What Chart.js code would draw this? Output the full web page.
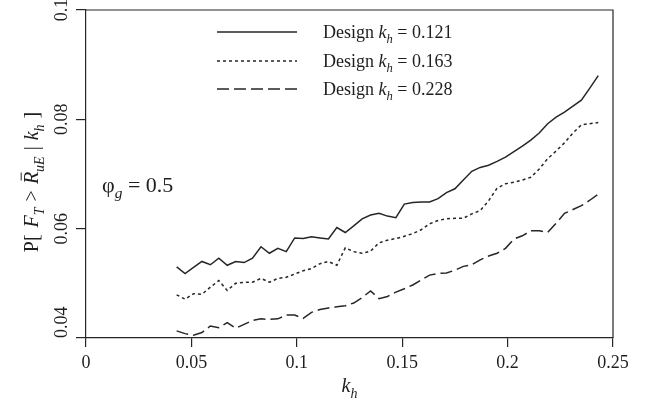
<!DOCTYPE html>
<html>
<head>
<meta charset="utf-8">
<script src="https://cdn.jsdelivr.net/npm/chart.js@4/dist/chart.umd.min.js"></script>
<style>
  html, body { margin: 0; padding: 0; background: #fff; }
  #wrap { width: 647px; height: 406px; }
</style>
</head>
<body>
<div id="wrap"><canvas id="myChart" width="647" height="406"></canvas></div>
<script>
/*-------------------------
~~~~~~~~~~~ Data ~~~~~~~~~~
-------------------------*/
// seismic coefficient k_h along the x axis
const kh = [0.043, 0.047, 0.051, 0.055, 0.059, 0.063, 0.067, 0.071, 0.075, 0.079,
            0.083, 0.087, 0.091, 0.095, 0.099, 0.103, 0.107, 0.111, 0.115, 0.119,
            0.123, 0.127, 0.131, 0.135, 0.139, 0.143, 0.147, 0.151, 0.155, 0.159,
            0.163, 0.167, 0.171, 0.175, 0.179, 0.183, 0.187, 0.191, 0.195, 0.199,
            0.203, 0.207, 0.211, 0.215, 0.219, 0.223, 0.227, 0.231, 0.235, 0.239, 0.243];

const design121 = [0.0530, 0.0518, 0.0529, 0.0540, 0.0534, 0.0546, 0.0533, 0.0540, 0.0538, 0.0546,
                   0.0567, 0.0555, 0.0564, 0.0558, 0.0583, 0.0582, 0.0585, 0.0583, 0.0581, 0.0602,
                   0.0593, 0.0605, 0.0618, 0.0625, 0.0628, 0.0623, 0.0620, 0.0645, 0.0648, 0.0649,
                   0.0649, 0.0655, 0.0666, 0.0673, 0.0689, 0.0705, 0.0712, 0.0716, 0.0723, 0.0731,
                   0.0741, 0.0751, 0.0762, 0.0775, 0.0792, 0.0804, 0.0813, 0.0824, 0.0835, 0.0857, 0.0880];

const design163 = [0.0479, 0.0471, 0.0481, 0.0480, 0.0493, 0.0505, 0.0487, 0.0500, 0.0502, 0.0502,
                   0.0509, 0.0502, 0.0509, 0.0511, 0.0517, 0.0523, 0.0527, 0.0536, 0.0540, 0.0533,
                   0.0565, 0.0558, 0.0555, 0.0559, 0.0574, 0.0579, 0.0582, 0.0586, 0.0591, 0.0598,
                   0.0609, 0.0615, 0.0618, 0.0619, 0.0619, 0.0627, 0.0633, 0.0651, 0.0674, 0.0682,
                   0.0685, 0.0689, 0.0694, 0.0709, 0.0728, 0.0742, 0.0757, 0.0775, 0.0790, 0.0792, 0.0794];

const design228 = [0.0413, 0.0408, 0.0405, 0.0410, 0.0422, 0.0419, 0.0428, 0.0418, 0.0425, 0.0432,
                   0.0435, 0.0434, 0.0435, 0.0442, 0.0442, 0.0436, 0.0447, 0.0452, 0.0455, 0.0457,
                   0.0459, 0.0464, 0.0474, 0.0486, 0.0472, 0.0476, 0.0484, 0.0490, 0.0497, 0.0506,
                   0.0515, 0.0518, 0.0519, 0.0524, 0.0531, 0.0534, 0.0543, 0.0550, 0.0555, 0.0564,
                   0.0581, 0.0587, 0.0596, 0.0596, 0.0593, 0.0610, 0.0628, 0.0635, 0.0642, 0.0652, 0.0663];

const seriesLabels = ['0.121', '0.163', '0.228'];
const xTicks = [0, 0.05, 0.1, 0.15, 0.2, 0.25];
const yTicks = [0.04, 0.06, 0.08, 0.1];

/*-------------------------
~~~~~~~~~~ Styles ~~~~~~~~~
-------------------------*/
const FONT = "'Liberation Serif', 'DejaVu Serif', serif";
const INK = '#262626';
const dashes = [[], [3, 3], [12, 5]];

function toPoints(values) {
    return values.map((v, i) => ({ x: kh[i], y: v }));
}

function newDataset(label, values, dash) {
    return {
        label: label,
        data: toPoints(values),
        borderColor: INK,
        borderWidth: 1.5,
        borderDash: dash,
        pointRadius: 0,
        tension: 0,
        fill: false,
    };
}

/*-------------------------
~~~~~~~ Text helpers ~~~~~~
-------------------------*/
// parts: [{t, it, sub, bar, gap}] drawn left to right from (x, y) on the baseline
function partWidth(ctx, p, size) {
    ctx.font = (p.it ? 'italic ' : '') + (p.sub ? size * 0.7 : size) + 'px ' + FONT;
    return ctx.measureText(p.t).width + (p.gap || 0);
}

function richWidth(ctx, parts, size) {
    return parts.reduce((w, p) => w + partWidth(ctx, p, size), 0);
}

function drawRich(ctx, parts, x, y, size) {
    let cx = x;
    parts.forEach(p => {
        const w = partWidth(ctx, p, size);   // also sets ctx.font
        const dy = p.sub ? size * 0.28 : 0;
        ctx.fillText(p.t, cx, y + dy);
        if (p.bar) {
            const bw = w - (p.gap || 0);
            ctx.beginPath();
            ctx.lineWidth = 1;
            ctx.moveTo(cx + bw * 0.3, y - size * 0.84);
            ctx.lineTo(cx + bw * 0.95, y - size * 0.84);
            ctx.stroke();
        }
        cx += w;
    });
}

/*-------------------------
~~~~~~~~ Decorations ~~~~~~
-------------------------*/
const decorations = {
    id: 'decorations',
    afterDraw(chart) {
        const ctx = chart.ctx;
        const area = chart.chartArea;
        const yScale = chart.scales.y;
        ctx.save();
        ctx.strokeStyle = INK;
        ctx.fillStyle = '#1e1e1e';
        ctx.textBaseline = 'alphabetic';

        // top and right sides of the box
        ctx.lineWidth = 1.2;
        ctx.beginPath();
        ctx.moveTo(area.left, area.top);
        ctx.lineTo(area.right, area.top);
        ctx.lineTo(area.right, area.bottom);
        ctx.stroke();

        // rotated y tick labels
        ctx.font = '18px ' + FONT;
        ctx.textAlign = 'center';
        yTicks.forEach(v => {
            const label = String(v);
            const half = ctx.measureText(label).width / 2;
            let py = yScale.getPixelForValue(v);
            py = Math.min(py, area.bottom - half);
            ctx.save();
            ctx.translate(67, py);
            ctx.rotate(-Math.PI / 2);
            ctx.fillText(label, 0, 0);
            ctx.restore();
        });

        // y axis title
        const yTitle = [
            { t: 'P[', gap: 7 }, { t: 'F', it: true }, { t: 'T', it: true, sub: true, gap: 6 },
            { t: '>', gap: 6 }, { t: 'R', it: true, bar: true }, { t: 'uE', it: true, sub: true, gap: 6 },
            { t: '|', gap: 6 }, { t: 'k', it: true }, { t: 'h', it: true, sub: true, gap: 6 }, { t: ']' }
        ];
        ctx.textAlign = 'left';
        const tw = richWidth(ctx, yTitle, 20);
        ctx.save();
        ctx.translate(38, 182);
        ctx.rotate(-Math.PI / 2);
        drawRich(ctx, yTitle, -tw / 2, 0, 20);
        ctx.restore();

        // x axis title
        const xTitle = [{ t: 'k', it: true }, { t: 'h', it: true, sub: true }];
        const xw = richWidth(ctx, xTitle, 20);
        drawRich(ctx, xTitle, (area.left + area.right) / 2 - xw / 2, 392, 20);

        // annotation
        drawRich(ctx, [{ t: '\u03C6' }, { t: 'g', it: true, sub: true }, { t: ' = 0.5' }], 102, 192, 22);

        // legend
        const rows = [32, 61, 89];
        chart.data.datasets.forEach((ds, i) => {
            ctx.save();
            ctx.lineWidth = 1.5;
            ctx.setLineDash(ds.borderDash);
            ctx.beginPath();
            ctx.moveTo(217, rows[i]);
            ctx.lineTo(297, rows[i]);
            ctx.stroke();
            ctx.restore();
            drawRich(ctx, [{ t: 'Design ' }, { t: 'k', it: true }, { t: 'h', it: true, sub: true },
                           { t: ' = ' + seriesLabels[i] }], 323, rows[i] + 6, 18);
        });
        ctx.restore();
    }
};

/*-------------------------
~~~~~~~~~~ Chart ~~~~~~~~~~
-------------------------*/
const ctx = document.getElementById('myChart').getContext('2d');
new Chart(ctx, {
    type: 'line',
    data: {
        datasets: [
            newDataset('Design kh = ' + seriesLabels[0], design121, dashes[0]),
            newDataset('Design kh = ' + seriesLabels[1], design163, dashes[1]),
            newDataset('Design kh = ' + seriesLabels[2], design228, dashes[2]),
        ]
    },
    options: {
        responsive: false,
        animation: false,
        layout: { padding: { top: 10, right: 34, left: 0, bottom: 0 } },
        plugins: {
            legend: { display: false },
            tooltip: { enabled: false },
        },
        scales: {
            x: {
                type: 'linear',
                min: 0,
                max: 0.25,
                afterBuildTicks: scale => { scale.ticks = xTicks.map(v => ({ value: v })); },
                afterFit: scale => { scale.height = 68; },
                ticks: {
                    font: { family: FONT, size: 18 },
                    color: '#1e1e1e',
                    padding: 5,
                    maxRotation: 0,
                    callback: v => String(v),
                },
                grid: { drawOnChartArea: false, tickLength: 9, color: INK, lineWidth: 1.2 },
                border: { color: INK, width: 1.2 },
            },
            y: {
                type: 'linear',
                min: 0.04,
                max: 0.1,
                afterBuildTicks: scale => { scale.ticks = yTicks.map(v => ({ value: v })); },
                afterFit: scale => { scale.width = 86; },
                ticks: { display: false },
                grid: { drawOnChartArea: false, tickLength: 10, color: INK, lineWidth: 1.2 },
                border: { color: INK, width: 1.2 },
            }
        }
    },
    plugins: [decorations]
});
</script>
</body>
</html>
